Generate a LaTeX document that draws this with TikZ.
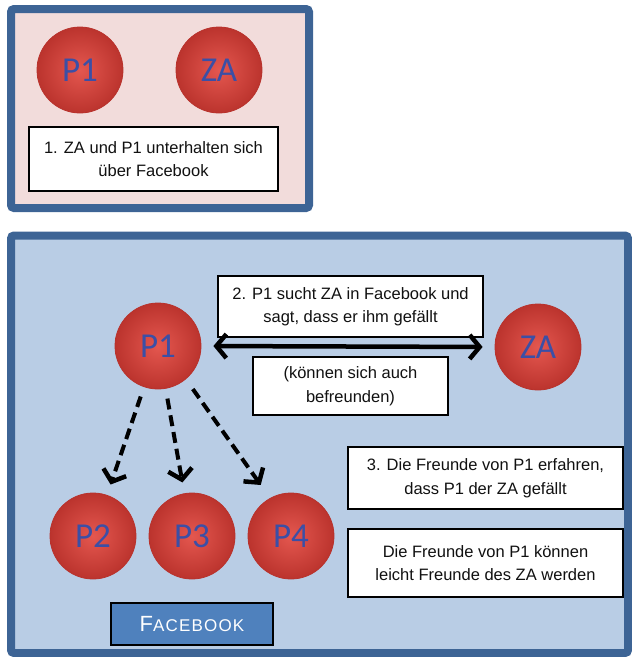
\documentclass[tikz,border=0pt]{standalone}
\usepackage{fontspec}
\setmainfont{Liberation Sans}
\newfontfamily\circfont{Carlito}
\usetikzlibrary{arrows.meta}
\definecolor{panelborder}{HTML}{3D6495}
\definecolor{pinkfill}{HTML}{F2DCDB}
\definecolor{bluefill}{HTML}{B9CDE5}
\definecolor{ballred}{HTML}{D9413A}
\definecolor{balllight}{HTML}{E4574F}
\definecolor{balldark}{HTML}{B8322C}
\definecolor{balltext}{HTML}{3B4FA6}
\definecolor{fbblue}{HTML}{4F81BD}
\definecolor{txtgray}{HTML}{111111}
\tikzset{
  panel/.style={draw=panelborder, line width=8pt, rounded corners=3pt},
  ball/.style={circle, minimum size=86pt, inner sep=0pt, draw=balldark, line width=0.8pt,
    inner color=balllight, outer color=balldark!90!ballred, text=balltext,
    font=\circfont\fontsize{35}{35}\selectfont},
  infobox/.style={draw=black, line width=2pt, fill=white, inner sep=0pt, align=center,
    text=txtgray, font=\fontsize{16.5}{23.5}\selectfont},
  barb/.tip={Straight Barb[length=10pt,width=24pt,line width=4.5pt]},
  biarrow/.style={line width=4.5pt, barb-barb},
  dasharrow/.style={line width=4pt, dash pattern=on 11pt off 6pt, -barb},
}
\begin{document}
\begin{tikzpicture}[x=1pt,y=-1pt]
\useasboundingbox (0,0) rectangle (632,657);
% panels
\draw[panel, fill=pinkfill] (11,9) rectangle (309,208);
\draw[panel, fill=bluefill] (11,235.5) rectangle (628,653);
% top panel
\node[ball] (tP1) at (80,70) {P1};
\node[ball] (tZA) at (219,70) {ZA};
\node[infobox, minimum width=249pt, minimum height=64pt] (b1) at (153.5,159)
  {1. ZA und P1 unterhalten sich\\über Facebook};
% bottom panel
\node[ball] (P1) at (158,346) {P1};
\node[ball] (ZA) at (538,347) {ZA};
\node[ball] (P2) at (93,536) {P2};
\node[ball] (P3) at (192,536) {P3};
\node[ball] (P4) at (291,536) {P4};
\node[infobox, minimum width=265pt, minimum height=61pt] (b2) at (350.5,306.5)
  {2. P1 sucht ZA in Facebook und\\sagt, dass er ihm gefällt};
\node[infobox, minimum width=195pt, minimum height=58pt] (b2b) at (350.5,386)
  {(können sich auch\\befreunden)};
\node[infobox, minimum width=275pt, minimum height=62pt] (b3) at (485.5,478)
  {3. Die Freunde von P1 erfahren,\\dass P1 der ZA gefällt};
\node[infobox, minimum width=275pt, minimum height=68pt] (b4) at (485.5,563)
  {Die Freunde von P1 können\\leicht Freunde des ZA werden};
\node[draw=black, line width=2pt, fill=fbblue, text=white, minimum width=162pt, minimum height=42pt, inner sep=0pt] (fb) at (192,624)
  {\addfontfeature{LetterSpace=7}{\fontsize{22}{22}\selectfont F}{\fontsize{17}{17}\selectfont ACEBOOK}};
% connectors
\draw[biarrow, shorten <=12pt, shorten >=12pt] (P1.east) -- (ZA.west);
\draw[dasharrow, shorten <=10pt, shorten >=11pt] (P1) -- (P2);
\draw[dasharrow, shorten <=10pt, shorten >=11pt] (P1) -- (P3);
\draw[dasharrow, shorten <=12pt, shorten >=16pt] (P1.-50) -- (P4.119);
\end{tikzpicture}
\end{document}
